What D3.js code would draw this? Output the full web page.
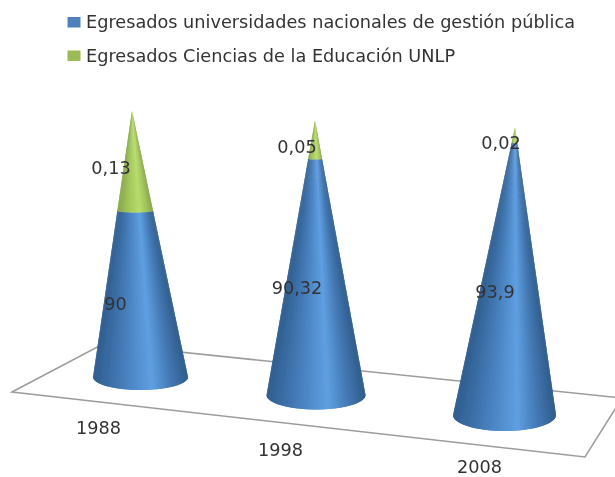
<!DOCTYPE html>
<html>
<head>
<meta charset="utf-8">
<script src="https://cdn.jsdelivr.net/npm/d3@7"></script>
<style>
	html, body { margin: 0; padding: 0; background: #fff; overflow: hidden; }
	svg { display: block; }
	text { font-family: "DejaVu Sans", sans-serif; fill: #333; }
</style>
</head>
<body>
<svg id="chart" width="615" height="477"></svg>
<script>
const years = [1988, 1998, 2008];
const publicas = [90, 90.32, 93.9];
const educacion = [0.13, 0.05, 0.02];
const series_names = ['Egresados universidades nacionales de gestión pública', 'Egresados Ciencias de la Educación UNLP'];

const width = 615, height = 477;
const font_size = 17.7;
const svg = d3.select('#chart');

// the original is a distorted 3d chart, so the scales go through its three cones
const y_blue = d3.scaleLinear().domain(publicas).range([166, 236, 272]);
const y_green = d3.scaleLinear().domain([0, 0.13]).range([0, 100]);

const x_base = d3.scaleLinear().domain(years).range([140.5, 316, 504.5]);
const y_base = d3.scaleLinear().domain(years).range([377, 395, 415]);
const x_apex = d3.scaleLinear().domain(years).range([132, 315, 515]);
const r_x = d3.scaleLinear().domain(years).range([47.5, 49.5, 51.5]);
const r_y = d3.scaleLinear().domain(years).range([13, 14.5, 16]);

const blue_shade = d3.scaleLinear()
	.domain([0, 0.25, 0.6, 0.82, 1])
	.range(['#305f90', '#4379b5', '#5f9fe2', '#4276b0', '#2f5c8a']);
const green_shade = d3.scaleLinear()
	.domain([0, 0.25, 0.6, 0.82, 1])
	.range(['#84a648', '#a0c458', '#b8dc6c', '#a0c25a', '#80a044']);

const defs = svg.append('defs');
defs.append('filter').attr('id', 'soft')
	.attr('x', 0).attr('y', 0).attr('width', 1).attr('height', 1)
	.attr('filterUnits', 'objectBoundingBox')
	.append('feGaussianBlur').attr('stdDeviation', 0.6);

const chart = svg.append('g').attr('filter', 'url(#soft)');
chart.append('rect').attr('width', width).attr('height', height).attr('fill', '#fff');

// floor
const floor_x = d3.scaleLinear().domain([0, 1, 2, 3]).range([12, 103, 622, 585]);
const floor_y = d3.scaleLinear().domain([0, 1, 2, 3]).range([392, 344, 398, 457]);
const line = d3.line();
chart.append('path')
	.attr('d', line([0, 1, 2, 3].map(i => [floor_x(i), floor_y(i)])) + 'Z')
	.attr('fill', '#fff')
	.attr('stroke', '#9c9c9c')
	.attr('stroke-width', 1.5);

// cones are fans of wedges from the base rim to the apex, each one painted
// a little over the next so no seams show
const n_slices = 60;
years.forEach(function(year, i) {
	const total = y_blue(publicas[i]) + y_green(educacion[i]);
	const split = y_green(educacion[i]) / total;
	const apex = [x_apex(year), y_base(year) - total];
	const rim = d3.range(n_slices + 1).map(function(k) {
		const t = Math.PI - Math.PI * k / n_slices;
		return [x_base(year) + r_x(year) * Math.cos(t), y_base(year) + r_y(year) * Math.sin(t)];
	});
	// the colour joint is much flatter than the base rim in the original
	const at_split = function(p) {
		const q = d3.interpolateArray(apex, p)(split);
		const flat = d3.interpolateArray(apex, [p[0], y_base(year)])(split);
		return [q[0], flat[1] + (q[1] - flat[1]) * 0.3];
	};
	const g = chart.append('g');
	d3.range(n_slices - 1, -1, -1).forEach(function(k) {
		const a = rim[k], b = rim[Math.min(k + 2, n_slices)];
		const u = (rim[k][0] + rim[k + 1][0] - 2 * (x_base(year) - r_x(year))) / (4 * r_x(year));
		g.append('path')
			.attr('d', line([at_split(a), at_split(b), b, a]) + 'Z')
			.attr('fill', blue_shade(u));
		g.append('path')
			.attr('d', line([apex, at_split(b), at_split(a)]) + 'Z')
			.attr('fill', green_shade(u));
	});
});

// data labels
const blue_label_x = d3.scaleLinear().domain(years).range([115.5, 297, 495]);
const blue_label_y = d3.scaleLinear().domain(years).range([310, 294, 298]);
const green_label_x = d3.scaleLinear().domain(years).range([111, 297, 501]);
const green_label_y = d3.scaleLinear().domain(years).range([174, 153, 149]);
const comma = v => String(v).replace('.', ',');

chart.selectAll('.label-blue').data(years).join('text')
	.attr('class', 'label-blue')
	.attr('x', d => blue_label_x(d))
	.attr('y', d => blue_label_y(d))
	.attr('text-anchor', 'middle')
	.attr('font-size', font_size)
	.text((d, i) => comma(publicas[i]));

chart.selectAll('.label-green').data(years).join('text')
	.attr('class', 'label-green')
	.attr('x', d => green_label_x(d))
	.attr('y', d => green_label_y(d))
	.attr('text-anchor', 'middle')
	.attr('font-size', font_size)
	.text((d, i) => comma(educacion[i]));

// category labels
const cat_x = d3.scaleLinear().domain(years).range([98.5, 280.5, 479.5]);
const cat_y = d3.scaleLinear().domain(years).range([434, 456, 472.5]);
chart.selectAll('.cat').data(years).join('text')
	.attr('class', 'cat')
	.attr('x', d => cat_x(d))
	.attr('y', d => cat_y(d))
	.attr('text-anchor', 'middle')
	.attr('font-size', font_size)
	.text(d => d);

// legend
const legend_y = d3.scalePoint().domain(series_names).range([22, 55.5]);
const legend_color = d3.scaleOrdinal().domain(series_names).range(['#4f81bd', '#9bbb59']);
chart.selectAll('.swatch').data(series_names).join('rect')
	.attr('class', 'swatch')
	.attr('x', 67.5)
	.attr('y', d => legend_y(d) - 5)
	.attr('width', 13)
	.attr('height', 10.5)
	.attr('fill', d => legend_color(d));
chart.selectAll('.legend').data(series_names).join('text')
	.attr('class', 'legend')
	.attr('x', 86)
	.attr('y', d => legend_y(d) + 6)
	.attr('font-size', font_size)
	.text(d => d);
</script>
</body>
</html>
